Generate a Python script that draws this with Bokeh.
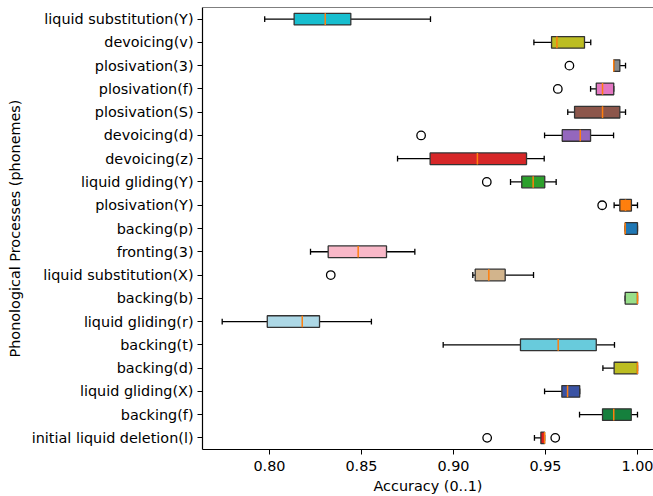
from bokeh.plotting import figure
from bokeh.models import FixedTicker, Span, NumeralTickFormatter
from bokeh.embed import file_html
from bokeh.resources import INLINE

# ---- data (top row first) ----
processes = ["liquid substitution(Y)", "devoicing(v)", "plosivation(3)", "plosivation(f)",
             "plosivation(S)", "devoicing(d)", "devoicing(z)", "liquid gliding(Y)",
             "plosivation(Y)", "backing(p)", "fronting(3)", "liquid substitution(X)",
             "backing(b)", "liquid gliding(r)", "backing(t)", "backing(d)",
             "liquid gliding(X)", "backing(f)", "initial liquid deletion(l)"]
whisker_low = [0.7974, 0.9437, 0.9871, 0.9745, 0.9621, 0.9495, 0.8696, 0.9310, 0.9873, 0.9933,
               0.8223, 0.9105, 0.9933, 0.7743, 0.8944, 0.9812, 0.9495, 0.9685, 0.9440]
q1 = [0.8134, 0.9533, 0.9871, 0.9776, 0.9658, 0.9591, 0.8873, 0.9371, 0.9904, 0.9933,
      0.8319, 0.9118, 0.9933, 0.7988, 0.9364, 0.9873, 0.9589, 0.9810, 0.9475]
median = [0.8303, 0.9562, 0.9871, 0.9810, 0.9810, 0.9689, 0.9130, 0.9433, 0.9935, 0.9933,
          0.8482, 0.9192, 1.0, 0.8178, 0.9569, 1.0, 0.9620, 0.9871, 0.9495]
q3 = [0.8442, 0.9712, 0.9904, 0.9871, 0.9904, 0.9745, 0.9397, 0.9496, 0.9967, 1.0,
      0.8636, 0.9281, 1.0, 0.8272, 0.9776, 1.0, 0.9686, 0.9966, 0.9495]
whisker_high = [0.8875, 0.9746, 0.9935, 0.9871, 0.9935, 0.9870, 0.9493, 0.9558, 1.0, 1.0,
                0.8790, 0.9435, 1.0, 0.8554, 0.9875, 1.0, 0.9686, 1.0, 0.9495]
outliers = [[], [], [0.9630], [0.9567], [], [0.8824], [], [0.9181], [0.9808], [],
            [], [0.8333], [], [], [], [], [], [], [0.9183, 0.9553]]
colors = ["#17becf", "#bcbd22", "#8a8a8a", "#e377c2", "#8c564b", "#9467bd", "#d62728",
          "#2ca02c", "#ff7f0e", "#1f77b4", "#f9b8c8", "#d2b48c", "#98df8a", "#add8e6",
          "#68cbdc", "#bcbd22", "#3a53a4", "#15803d", "#e41a1c"]
x_tick_values = [0.80, 0.85, 0.90, 0.95, 1.00]
x_tick_labels = ["0.80", "0.85", "0.90", "0.95", "1.00"]

n = len(processes)
pos = [n - i for i in range(n)]

out_x, out_y = [], []
for i, vals in enumerate(outliers):
    for v in vals:
        out_x.append(v)
        out_y.append(pos[i])

FONT = "DejaVu Sans"
FS = "14.4px"

p = figure(width=653, height=496, output_backend="svg", toolbar_location=None,
           x_range=(0.7636, 1.0087), y_range=(0.5, 19.5),
           min_border_left=202, min_border_right=0, min_border_top=7, min_border_bottom=46)
p.outline_line_color = None
p.grid.visible = False
p.background_fill_color = "white"
p.border_fill_color = "white"

EDGE = "#333333"
LW = 1.3
# whiskers
p.segment(x0=whisker_low, y0=pos, x1=q1, y1=pos, line_color="black", line_width=LW)
p.segment(x0=q3, y0=pos, x1=whisker_high, y1=pos, line_color="black", line_width=LW)
# caps
p.segment(x0=whisker_low, y0=[y - 0.125 for y in pos], x1=whisker_low, y1=[y + 0.125 for y in pos],
          line_color="black", line_width=LW)
p.segment(x0=whisker_high, y0=[y - 0.125 for y in pos], x1=whisker_high, y1=[y + 0.125 for y in pos],
          line_color="black", line_width=LW)
# boxes
p.hbar(y=pos, left=q1, right=q3, height=0.5, fill_color=colors, line_color=EDGE, line_width=LW)
# medians
p.segment(x0=median, y0=[y - 0.25 for y in pos], x1=median, y1=[y + 0.25 for y in pos],
          line_color="#ff7f0e", line_width=1.5)
# fliers
p.scatter(x=out_x, y=out_y, marker="circle", size=8.5, fill_color=None,
          line_color="black", line_width=1.3)

# top spine
p.add_layout(Span(location=19.5, dimension="width", line_color="black", line_width=1.2))

for ax in (p.xaxis[0], p.yaxis[0]):
    ax.axis_line_color = "black"
    ax.axis_line_width = 1.2
    ax.major_tick_line_color = "black"
    ax.major_tick_in = 0
    ax.major_tick_out = 5
    ax.minor_tick_line_color = None
    ax.major_label_text_font = FONT
    ax.major_label_text_font_size = FS
    ax.major_label_text_color = "black"
    ax.axis_label_text_font = FONT
    ax.axis_label_text_font_size = FS
    ax.axis_label_text_font_style = "normal"
    ax.axis_label_text_color = "black"

p.xaxis.ticker = FixedTicker(ticks=x_tick_values)
p.xaxis.formatter = NumeralTickFormatter(format="0.00")
p.xaxis.major_label_overrides = {v: l for v, l in zip(x_tick_values, x_tick_labels)}
p.xaxis.axis_label = "Accuracy (0..1)"
p.xaxis.major_label_standoff = 6
p.xaxis.axis_label_standoff = 4

p.yaxis.ticker = FixedTicker(ticks=pos)
p.yaxis.major_label_overrides = {pp: name for pp, name in zip(pos, processes)}
p.yaxis.axis_label = "Phonological Processes (phonemes)"
p.yaxis.major_label_standoff = 4
p.yaxis.axis_label_standoff = 6

open("out.html", "w").write(file_html(p, INLINE))
